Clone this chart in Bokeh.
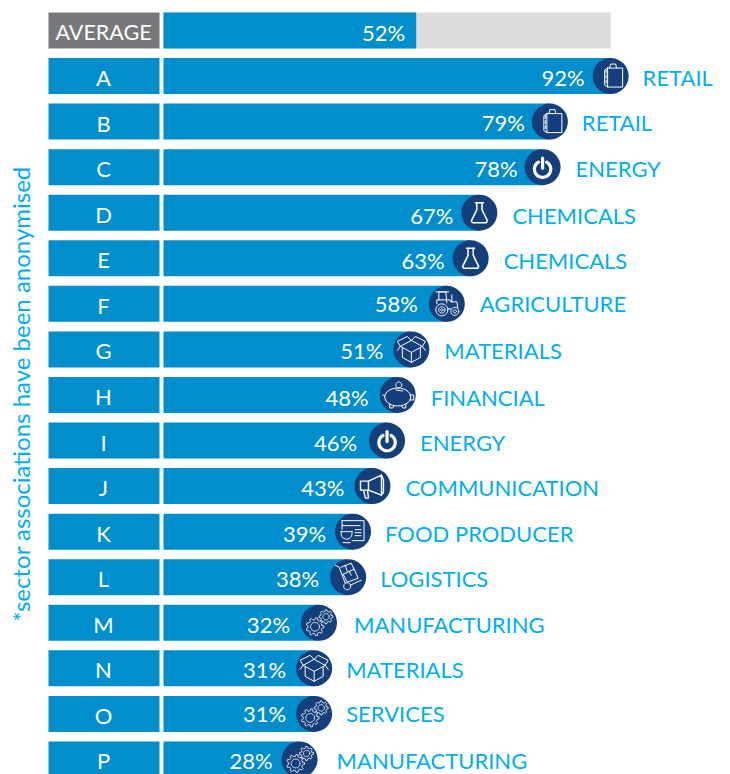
import math
from bokeh.plotting import figure
from bokeh.models import Range1d
from bokeh.core.properties import value
from bokeh.embed import file_html
from bokeh.resources import INLINE

codes = list("ABCDEFGHIJKLMNOP")
bar_values = [92, 79.5, 78, 65, 63.2, 58.3, 51, 48.2, 46, 43, 39, 38, 32, 31, 31, 28]
pct_labels = ["92%","79%","78%","67%","63%","58%","51%","48%","46%","43%","39%","38%","32%","31%","31%","28%"]
sectors = ["RETAIL","RETAIL","ENERGY","CHEMICALS","CHEMICALS","AGRICULTURE","MATERIALS","FINANCIAL","ENERGY",
           "COMMUNICATION","FOOD PRODUCER","LOGISTICS","MANUFACTURING","MATERIALS","SERVICES","MANUFACTURING"]
icons = ["bag","bag","power","flask","flask","tractor","box","piggy","power","megaphone","mixer","trolley",
         "gears","box","gears","gears"]
average_value = 52
average_track = 92
note = "*sector associations have been anonymised"

# layout: gaps (px) between the circle centre and its two labels, and small vertical nudges
pct_gaps = [26, 25, 25, 26, 26, 29, 28, 29, 30, 28, 27, 29, 29, 28, 28, 27]
sector_gaps = [32, 32, 33, 33, 33, 33, 33, 33, 33, 33, 32, 32, 35, 32, 32, 37]
sector_nudge = [0, -1, 0, 1, 1, -2, 0, 1, 0, 0, 0, 0, 0, 0, -2, 0]

FONT = "Lato"
BLUE = "#008fcc"; NAVY = "#143f7a"; CYAN = "#00aeef"; GREY = "#dcdcdc"; DGREY = "#77787b"

W, H = 730, 774
PX_PER = 4.86; X0 = 163
ROW = 45.56; Y0 = 30
xr = Range1d(-X0 / PX_PER, (W - X0) / PX_PER)
yr = Range1d((H - Y0) / ROW, -Y0 / ROW)
p = figure(width=W, height=H, x_range=xr, y_range=yr, toolbar_location=None, output_backend="svg",
           min_border=0, outline_line_color=None)
p.axis.visible = False
p.grid.visible = False

def px(x):
    return (x - X0) / PX_PER

rows = list(range(1, 17))
bh = 36 / ROW
p.hbar(y=[0], left=[0], right=[average_track], height=bh, fill_color=GREY, line_color=None)
p.hbar(y=[0], left=[0], right=[average_value], height=bh, fill_color=BLUE, line_color=None)
p.hbar(y=[0], left=[px(48)], right=[px(159)], height=bh, fill_color=DGREY, line_color=None)
p.hbar(y=rows, left=px(48), right=px(159), height=bh, fill_color=BLUE, line_color=None)
p.hbar(y=rows, left=0, right=bar_values, height=bh, fill_color=BLUE, line_color=None)
p.scatter(x=bar_values, y=rows, size=36, fill_color=NAVY, line_color=None)


# ---------- pictograms, drawn in px relative to the circle centre ----------
def arc(cx, cy, r, a0=0, a1=360, n=28, ry=None):
    ry = r if ry is None else ry
    return [(cx + r * math.cos(math.radians(a0 + (a1 - a0) * i / n)),
             cy + ry * math.sin(math.radians(a0 + (a1 - a0) * i / n))) for i in range(n + 1)]

def gear(cx, cy, r, teeth=8):
    pts = []
    for i in range(teeth):
        a = 2 * math.pi * i / teeth
        s = 2 * math.pi / teeth
        for f, rr in ((-.30, r * .78), (-.16, r), (.16, r), (.30, r * .78)):
            pts.append((cx + rr * math.cos(a + f * s), cy + rr * math.sin(a + f * s)))
    pts.append(pts[0])
    return pts

SHAPES = {
    "bag": (1.0, [
        [(-3, -8), (12, -8), (12, 11), (-3, 11), (-3, -8)],
        [(-3, -8), (-6, -6), (-6, 9), (-3, 11)],
        [(-4.5, -6), (-4.5, -3)], [(-4.5, -1), (-4.5, 2)], [(-4.5, 4), (-4.5, 7)],
        [(-1, -8), (0, -12), (5, -12), (6, -8)],
    ]),
    "power": (3.2, [
        arc(0, 2, 8.2, -60, 240),
        [(0, -9), (0, 1)],
    ]),
    "flask": (1.6, [
        [(-4, -10), (4, -10)],
        [(-2.6, -10), (-2.6, -3), (-8, 8), (-7, 10), (7, 10), (8, 8), (2.6, -3), (2.6, -10)],
    ]),
    "tractor": (1.0, [
        arc(-5, 6, 6), arc(-5, 6, 3.2), arc(-5, 6, 1.2),
        arc(8, 7.5, 4), arc(8, 7.5, 1.6),
        [(-8, -4), (-8, -12), (-1, -12), (0, -1)],
        [(-11, -12), (2, -12)],
        [(-10, 0), (-10, -4), (3, -4), (4, -2), (10, -2), (11, 4)],
        [(1, 5), (4, 5)], [(5, -9), (5, -2)],
    ]),
    "box": (1.0, [
        [(-11, -3), (0, -9), (11, -3), (0, 3), (-11, -3)],
        [(-9, -1), (-9, 8), (0, 13), (9, 8), (9, -1)],
        [(0, 3), (0, 13)],
        [(-11, -3), (-14, -8), (-4, -13), (0, -9), (4, -13), (14, -8), (11, -3)],
        [(-14, 1), (-11, -3)], [(14, 1), (11, -3)],
    ]),
    "piggy": (1.0, [
        arc(0, 2, 13, 0, 360, ry=9),
        [(-8, 9), (-8, 13), (-5, 13), (-4, 11)],
        [(4, 11), (5, 13), (8, 13), (8, 9)],
        [(12, 0), (16, 0), (16, 5), (12, 5)],
        [(-13, 1), (-15, 0)],
        [(-2, -5), (5, -4)],
        arc(1, -10, 3),
    ]),
    "megaphone": (1.4, [
        [(-12, -5), (-4, -5), (9, -11), (11, -6), (11, 6), (9, 9), (-4, 4), (-12, 4), (-12, -5)],
        [(-4, -5), (-4, 4)],
        [(9, -11), (9, 9)],
        [(-9, 4), (-7, 12), (-4, 12), (-5, 4)],
    ]),
    "mixer": (1.0, [
        [(-11, -11), (11, -11), (11, 9), (-1, 9)],
        [(-11, -11), (-11, -6), (7, -6)],
        [(-11, -6), (-11, -2)],
        [(2, -2), (8, -2)], [(2, 1), (8, 1)], [(2, 4), (8, 4)],
        [(-12, 0), (-1, 0)],
        [(-12, 0)] + arc(-6.5, 2, 5.5, 180, 0, 12)[1:] + [(-1, 0)],
        [(-10, 11), (-3, 11)],
    ]),
    "trolley": (1.0, [
        [(-13, -12), (-9, -10), (-3, 6)],
        arc(-1, 9, 3.5),
        [(2, 8), (13, 3)],
        [(-5, -3), (6, -8), (10, 1), (-1, 5), (-5, -3)],
        [(-7, -10), (3, -14), (6, -8)], [(-3, -12), (-1, -6)],
        [(1, -6), (3, -2)],
    ]),
    "gears": (0.8, [
        gear(-4, 4, 9, 9), arc(-4, 4, 4.4),
        gear(7, -6, 7, 8), arc(7, -6, 3.2),
    ]),
}

line_xs, line_ys, line_ws = [], [], []
for v, r, name in zip(bar_values, rows, icons):
    lw, paths = SHAPES[name]
    for path in paths:
        line_xs.append([v + a / PX_PER for a, _ in path])
        line_ys.append([r + b / ROW for _, b in path])
        line_ws.append(lw)
p.multi_line(xs=line_xs, ys=line_ys, line_width=line_ws, line_color="white", line_join="round", line_cap="round")


def txt(x, y, t, color, align, size="22px", y_offset=1.5, **kw):
    p.text(x=x, y=y, text=t, text_color=color, text_align=align, text_baseline="middle",
           text_font=value(FONT), text_font_size=size, y_offset=y_offset, **kw)

txt([px(103)], [0], ["AVERAGE"], "white", "center", size="21.5px")
txt([px(103)] * 16, rows, codes, "white", "center")
txt([average_value], [0], ["52%"], "white", "right", x_offset=-11)
for v, r, lab, g, s, g2, n in zip(bar_values, rows, pct_labels, pct_gaps, sectors, sector_gaps, sector_nudge):
    txt([v], [r], [lab], "white", "right", x_offset=-g, y_offset=1.5 + n)
    txt([v], [r], [s], CYAN, "left", x_offset=g2, y_offset=1.5 + n)
txt([px(20)], [(392 - Y0) / ROW], [note], CYAN, "center", size="24px", angle=1.5708)

open("out.html", "w").write(file_html(p, INLINE))
